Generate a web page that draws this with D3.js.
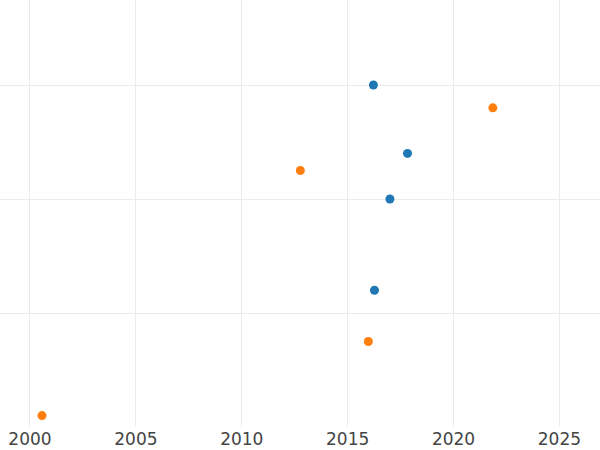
<!DOCTYPE html>
<html><head><meta charset="utf-8">
<script src="https://cdn.jsdelivr.net/npm/d3@7"></script>
<style>body{margin:0;background:#fff}svg{display:block}</style>
</head><body>
<svg id="c" width="600" height="450"></svg>
<script>
const xTicks = [2000, 2005, 2010, 2015, 2020, 2025];
const yTicks = [1, 2, 3];
const blueX = [2016.24, 2017.85, 2017.02, 2016.29];
const blueY = [3.0, 2.40, 2.0, 1.20];
const orangeX = [2021.88, 2012.79, 2016.0, 2000.59];
const orangeY = [2.80, 2.25, 0.75, 0.10];
const seriesColors = ["#1f77b4", "#ff7f0e"];

const svg = d3.select("#c");
const W = 600, plotBottom = 427;
const x = d3.scaleLinear().domain([1998.607, 2026.94]).range([0, W]);
const y = d3.scaleLinear().domain([0, 3.746]).range([plotBottom, 0]);

const grid = svg.append("g");
grid.selectAll("line.v").data(xTicks).join("line")
  .attr("x1", d => Math.round(x(d)) + 0.5).attr("x2", d => Math.round(x(d)) + 0.5)
  .attr("y1", 0).attr("y2", plotBottom)
  .attr("stroke", "#ebebeb").attr("stroke-width", 1);
grid.selectAll("line.h").data(yTicks).join("line")
  .attr("x1", 0).attr("x2", W)
  .attr("y1", d => Math.round(y(d)) + 0.5).attr("y2", d => Math.round(y(d)) + 0.5)
  .attr("stroke", "#ebebeb").attr("stroke-width", 1);

const xAxis = d3.axisBottom(x).tickValues(xTicks).tickFormat(d3.format("d")).tickSize(0).tickPadding(6);
const ax = svg.append("g").attr("transform", `translate(0,${plotBottom})`).call(xAxis);
ax.select(".domain").remove();
ax.selectAll("text").attr("font-family", "DejaVu Sans").attr("font-size", 17).attr("fill", "#444");

const series = [
  {xs: blueX, ys: blueY, color: seriesColors[0]},
  {xs: orangeX, ys: orangeY, color: seriesColors[1]}
];
series.forEach(s => {
  svg.append("g").selectAll("circle").data(s.xs.map((v, i) => [v, s.ys[i]])).join("circle")
    .attr("cx", d => x(d[0])).attr("cy", d => y(d[1])).attr("r", 4.5).attr("fill", s.color);
});
</script>
</body></html>
